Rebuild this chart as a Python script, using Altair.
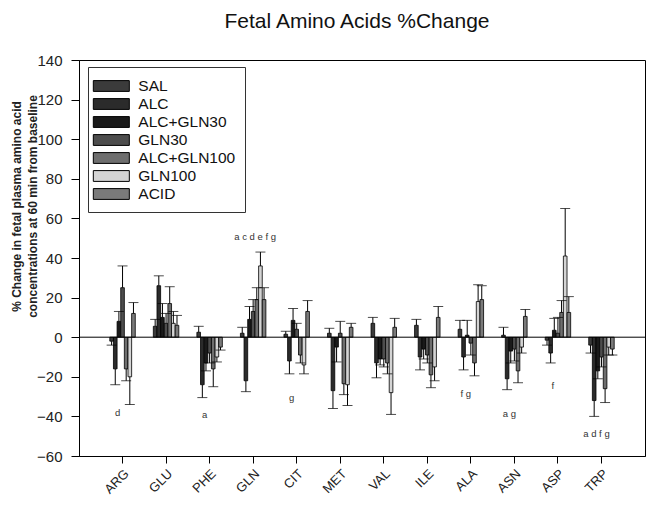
import altair as alt
import pandas as pd

categories = ["ARG", "GLU", "PHE", "GLN", "CIT", "MET", "VAL", "ILE", "ALA", "ASN", "ASP", "TRP"]
groups = ["SAL", "ALC", "ALC+GLN30", "GLN30", "ALC+GLN100", "GLN100", "ACID"]
colors = ["#3b3b3b", "#2b2b2b", "#1a1a1a", "#4d4d4d", "#6e6e6e", "#d4d4d4", "#7a7a7a"]

mean_sal = [-2, 5.5, 2.5, 2, 1.5, 2, 7, 6, 4, 1, -1.5, -4]
mean_alc = [-16, 26, -24, -22, -12, -27, -13, -10, -10, -21, -8, -32]
mean_alc_gln30 = [8, 10, -13, 9, 8.5, -5, -11, -6, 1, -7, 3.5, -17]
mean_gln30 = [25, 7, -8, 13, 4, 2, -11, -9, -3, -6, 2, -10]
mean_alc_gln100 = [-16, 17, -16, 19, -9, -23.5, -13, -19, -13, -17, 12.5, -26]
mean_gln100 = [-20, 7, -10, 36, -14, -24, -28, -15, 18, -5, 41, -5]
mean_acid = [12, 6, -5, 19, 13, 5, 5, 10, 19, 10.5, 12.5, -6]

err_sal = [2, 3.5, 3, 3, 1.5, 2.5, 3, 3, 4.5, 4, 2.5, 4]
err_alc = [8, 5, 6.5, 5.5, 6.5, 9, 7.5, 6.5, 6.5, 5.5, 5, 8]
err_alc_gln30 = [5, 7, 4, 6.5, 6, 7.5, 3, 5, 7.5, 6, 6, 4]
err_gln30 = [11, 5, 5, 6, 3, 6, 4, 4, 6, 6, 8, 5]
err_alc_gln100 = [6, 8.5, 9, 6, 4, 5.5, 5.5, 6.5, 6.5, 6, 6, 7]
err_gln100 = [14, 6, 2.5, 7, 4.5, 10.5, 11, 7, 8.5, 3, 24, 4]
err_acid = [5.5, 5, 1.5, 6, 5.5, 2, 4.5, 5.5, 7, 3.5, 8, 3]

ann_cats = ["ARG", "PHE", "GLN", "CIT", "ALA", "ASN", "ASP", "TRP"]
ann_text = ["d", "a", "a c d e f g", "g", "f g", "a g", "f", "a d f g"]
ann_y = [-38.5, -39.5, 50.5, -30.5, -28.5, -39, -24.5, -49]

all_means = [mean_sal, mean_alc, mean_alc_gln30, mean_gln30, mean_alc_gln100, mean_gln100, mean_acid]
all_errs = [err_sal, err_alc, err_alc_gln30, err_gln30, err_alc_gln100, err_gln100, err_acid]

rows = []
for g, means, errs in zip(groups, all_means, all_errs):
    for c, m, e in zip(categories, means, errs):
        end = m + e if m >= 0 else m - e
        rows.append({"aa": c, "group": g, "mean": m, "err_end": end})
df = pd.DataFrame(rows)
ann_df = pd.DataFrame({"aa": ann_cats, "txt": ann_text, "y": ann_y})
zero_df = pd.DataFrame({"z": [0]})

y_title = ["% Change in fetal plasma amino acid", "concentrations at 60 min from baseline"]
y_scale = alt.Scale(domain=[-60, 140], nice=False, zero=False)
y_axis = alt.Axis(
    title=y_title, values=list(range(-60, 141, 20)), grid=False,
    titleFontWeight="bold", titleFontSize=12, titleAngle=270,
    titleX=-68, titleY=146, titleAlign="center", titleBaseline="top",
    titleLineHeight=16.5, labelFontSize=15, tickSize=8, labelPadding=9,
    labelColor="#222", titleColor="#222",
)
x_enc = alt.X(
    "aa:N", sort=categories,
    scale=alt.Scale(domain=categories, paddingInner=0.415, paddingOuter=0.7075),
    axis=alt.Axis(title=None, labelAngle=315, labelFontSize=13, tickSize=7,
                  labelPadding=4, grid=False, labelColor="#222"),
)
xoff = alt.XOffset("group:N", sort=groups,
                   scale=alt.Scale(domain=groups, paddingInner=0, paddingOuter=0))

base = alt.Chart(df)
bars = base.mark_bar(stroke="black", strokeWidth=0.8).encode(
    x=x_enc, xOffset=xoff,
    y=alt.Y("mean:Q", scale=y_scale, axis=y_axis),
    color=alt.Color(
        "group:N", sort=groups,
        scale=alt.Scale(domain=groups, range=colors),
        legend=alt.Legend(
            title=None, orient="none", legendX=9, legendY=7,
            labelFontSize=15.5, labelColor="#111",
            symbolType="M-1.52,-0.6L2.48,-0.6L2.48,0.6L-1.52,0.6Z",
            symbolSize=324, symbolStrokeColor="black", symbolStrokeWidth=1,
            symbolOpacity=1,
            labelOffset=21.8, padding=9.5, rowPadding=0,
            strokeColor="#333", fillColor="white",
        ),
    ),
)
rules = base.mark_rule(color="black", strokeWidth=1).encode(
    x=x_enc, xOffset=xoff,
    y=alt.Y("mean:Q", scale=y_scale, axis=y_axis),
    y2="err_end:Q",
)
caps = base.mark_tick(color="black", thickness=1, size=10).encode(
    x=x_enc, xOffset=xoff,
    y=alt.Y("err_end:Q", scale=y_scale, axis=y_axis),
)
zero = alt.Chart(zero_df).mark_rule(color="black", strokeWidth=1).encode(
    y=alt.Y("z:Q", scale=y_scale, axis=y_axis),
)
ann_base = alt.Chart(ann_df)
ann_main = ann_base.transform_filter(alt.datum.aa != "GLN").mark_text(
    fontSize=9.5, color="#333", dx=-5).encode(
    x=x_enc,
    y=alt.Y("y:Q", scale=y_scale, axis=y_axis),
    text="txt:N",
)
ann_gln = ann_base.transform_filter(alt.datum.aa == "GLN").mark_text(
    fontSize=9.5, color="#333", dx=2).encode(
    x=x_enc,
    y=alt.Y("y:Q", scale=y_scale, axis=y_axis),
    text="txt:N",
)

chart = alt.layer(bars, rules, caps, zero, ann_main, ann_gln).properties(
    width=566, height=396,
    autosize=alt.AutoSizeParams(type="none"),
    padding={"left": 71, "top": 52, "right": 10, "bottom": 50},
    title=alt.TitleParams("Fetal Amino Acids %Change", fontSize=21,
                          fontWeight="normal", anchor="middle", offset=21,
                          dx=-5, color="#111"),
).configure(
    font="Liberation Sans",
).configure_view(
    stroke="black", strokeWidth=1,
).configure_axis(
    domainColor="black", tickColor="black", domainWidth=1,
)

chart.save("out.html", embed_options={"renderer": "svg", "actions": False})
